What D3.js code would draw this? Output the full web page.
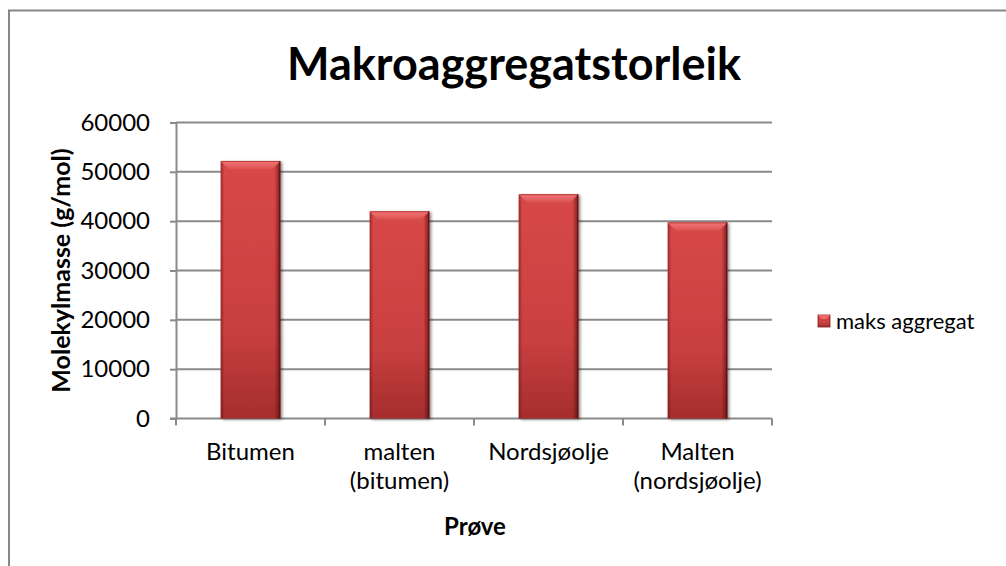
<!DOCTYPE html>
<html>
<head>
<meta charset="utf-8">
<script src="https://cdn.jsdelivr.net/npm/d3@7"></script>
<style>
  html, body { margin: 0; padding: 0; background: #fff; }
  svg { display: block; }
  text { font-family: Lato, "Open Sans", sans-serif; fill: #000; }
</style>
</head>
<body>
<svg id="chart" width="1006" height="566"></svg>
<script>
// Maximum aggregate size per sample
const categories = [["Bitumen"], ["malten", "(bitumen)"], ["Nordsjøolje"], ["Malten", "(nordsjøolje)"]];
const seriesName = "maks aggregat";
const values = [52200, 42000, 45450, 39750];
const yTicks = [0, 10000, 20000, 30000, 40000, 50000, 60000];

const plot = { left: 176, right: 772, top: 122.5, bottom: 418.5 };

const svg = d3.select("#chart");

// Gradients for the bevelled bar look
const defs = svg.append("defs");
const body = defs.append("linearGradient").attr("id", "barBody")
  .attr("x1", 0).attr("y1", 0).attr("x2", 0).attr("y2", 1);
body.append("stop").attr("offset", "0%").attr("stop-color", "#d84848");
body.append("stop").attr("offset", "65%").attr("stop-color", "#c94040");
body.append("stop").attr("offset", "100%").attr("stop-color", "#a52d2d");

const sides = defs.append("linearGradient").attr("id", "barSides")
  .attr("x1", 0).attr("y1", 0).attr("x2", 1).attr("y2", 0);
sides.append("stop").attr("offset", "0%").attr("stop-color", "#5a0d0d").attr("stop-opacity", 0.5);
sides.append("stop").attr("offset", "6%").attr("stop-color", "#5a0d0d").attr("stop-opacity", 0.0);
sides.append("stop").attr("offset", "90%").attr("stop-color", "#5a0d0d").attr("stop-opacity", 0.0);
sides.append("stop").attr("offset", "100%").attr("stop-color", "#4a0808").attr("stop-opacity", 0.7);

const topBevel = defs.append("linearGradient").attr("id", "barTop")
  .attr("x1", 0).attr("y1", 0).attr("x2", 0).attr("y2", 1);
topBevel.append("stop").attr("offset", "0%").attr("stop-color", "#f07a7a");
topBevel.append("stop").attr("offset", "35%").attr("stop-color", "#ec6a6a");
topBevel.append("stop").attr("offset", "100%").attr("stop-color", "#dc5252");

const shadow = defs.append("filter").attr("id", "barShadow")
  .attr("x", "-20%").attr("y", "-10%").attr("width", "150%").attr("height", "130%");
shadow.append("feGaussianBlur").attr("in", "SourceAlpha").attr("stdDeviation", 1.6).attr("result", "b");
shadow.append("feOffset").attr("in", "b").attr("dx", 1.5).attr("dy", 1).attr("result", "o");
shadow.append("feComponentTransfer").attr("in", "o").attr("result", "s")
  .append("feFuncA").attr("type", "linear").attr("slope", 0.45);
const merge = shadow.append("feMerge");
merge.append("feMergeNode").attr("in", "s");
merge.append("feMergeNode").attr("in", "SourceGraphic");

// Chart area border
svg.append("rect")
  .attr("x", 9).attr("y", 10.5).attr("width", 1200).attr("height", 800)
  .attr("fill", "none").attr("stroke", "#878787").attr("stroke-width", 2);

// Scales
const x = d3.scaleBand()
  .domain(d3.range(categories.length))
  .range([plot.left, plot.right])
  .paddingInner(0.6).paddingOuter(0.3);
const step = (plot.right - plot.left) / categories.length;

const y = d3.scaleLinear().domain([0, 60000]).range([plot.bottom, plot.top]);

// Gridlines
svg.append("g").selectAll("line").data(yTicks.filter(d => d > 0)).join("line")
  .attr("x1", plot.left).attr("x2", plot.right)
  .attr("y1", d => y(d)).attr("y2", d => y(d))
  .attr("stroke", "#8a8a8a").attr("stroke-width", 2);

// Y axis
const yAxis = svg.append("g")
  .attr("transform", `translate(${plot.left},0)`)
  .call(d3.axisLeft(y).tickValues(yTicks).tickFormat(d3.format("d")).tickSize(6).tickPadding(20));
yAxis.select(".domain").attr("stroke", "#8a8a8a").attr("stroke-width", 2);
yAxis.selectAll(".tick line").attr("stroke", "#8a8a8a").attr("stroke-width", 2);
yAxis.selectAll(".tick text")
  .style("font-family", "Lato, sans-serif").style("font-size", "24px").attr("fill", "#000");

// X axis with ticks between categories
const xBoundaries = d3.range(categories.length + 1).map(i => plot.left + i * step);
svg.append("line")
  .attr("x1", plot.left - 6).attr("x2", plot.right)
  .attr("y1", plot.bottom).attr("y2", plot.bottom)
  .attr("stroke", "#8a8a8a").attr("stroke-width", 2);
svg.append("g").selectAll("line").data(xBoundaries).join("line")
  .attr("x1", d => d).attr("x2", d => d)
  .attr("y1", plot.bottom).attr("y2", plot.bottom + 7)
  .attr("stroke", "#8a8a8a").attr("stroke-width", 2);

// Category labels
const xl = svg.append("g").selectAll("text").data(categories).join("text")
  .attr("x", (d, i) => x(i) + x.bandwidth() / 2)
  .attr("y", 460)
  .attr("text-anchor", "middle")
  .style("font-size", "24px");
xl.selectAll("tspan").data(d => d).join("tspan")
  .attr("x", function () { return d3.select(this.parentNode).attr("x"); })
  .attr("dy", (d, i) => i === 0 ? 0 : 29)
  .text(d => d);

// Bars
const bars = svg.append("g").selectAll("g").data(values).join("g");
bars.append("rect")
  .attr("x", (d, i) => x(i)).attr("y", d => y(d))
  .attr("width", x.bandwidth()).attr("height", d => y(0) - y(d))
  .attr("fill", "url(#barBody)")
  .attr("filter", "url(#barShadow)");
bars.append("rect")
  .attr("x", (d, i) => x(i)).attr("y", d => y(d))
  .attr("width", x.bandwidth()).attr("height", d => y(0) - y(d))
  .attr("fill", "url(#barSides)");
const bev = 8;
bars.append("path")
  .attr("d", (d, i) => {
    const x0 = x(i), x1 = x(i) + x.bandwidth(), t = y(d);
    return `M${x0},${t}L${x1},${t}L${x1 - bev},${t + bev}L${x0 + bev},${t + bev}Z`;
  })
  .attr("fill", "url(#barTop)");
bars.append("line")
  .attr("x1", (d, i) => x(i) + 1).attr("x2", (d, i) => x(i) + x.bandwidth() - 1)
  .attr("y1", d => y(d) + 0.5).attr("y2", d => y(d) + 0.5)
  .attr("stroke", "#b83a3a").attr("stroke-width", 1);
bars.append("line")
  .attr("x1", (d, i) => x(i) + x.bandwidth() - 0.5).attr("x2", (d, i) => x(i) + x.bandwidth() - 0.5)
  .attr("y1", d => y(d)).attr("y2", y(0))
  .attr("stroke", "#5e1010").attr("stroke-width", 1);

// Title
svg.append("text")
  .attr("x", 514).attr("y", 80)
  .attr("text-anchor", "middle")
  .style("font-size", "45px").style("font-weight", "bold")
  .text("Makroaggregatstorleik");

// Axis titles
svg.append("text")
  .attr("transform", `translate(70,${(plot.top + plot.bottom) / 2}) rotate(-90)`)
  .attr("text-anchor", "middle")
  .style("font-size", "25px").style("font-weight", "bold")
  .text("Molekylmasse (g/mol)");
svg.append("text")
  .attr("x", 475).attr("y", 535)
  .attr("text-anchor", "middle")
  .style("font-size", "24px").style("font-weight", "bold")
  .text("Prøve");

// Legend
const lg = svg.append("g").attr("transform", "translate(818,315)");
lg.append("rect").attr("width", 12).attr("height", 12).attr("fill", "url(#barBody)")
  .attr("stroke", "#7a1a1a").attr("stroke-width", 0.8);
lg.append("path").attr("d", "M0,0L12,0L8,4L4,4Z").attr("fill", "#ec6a6a");
lg.append("text").attr("x", 18).attr("y", 14)
  .style("font-size", "22px")
  .text(seriesName);
</script>
</body>
</html>
